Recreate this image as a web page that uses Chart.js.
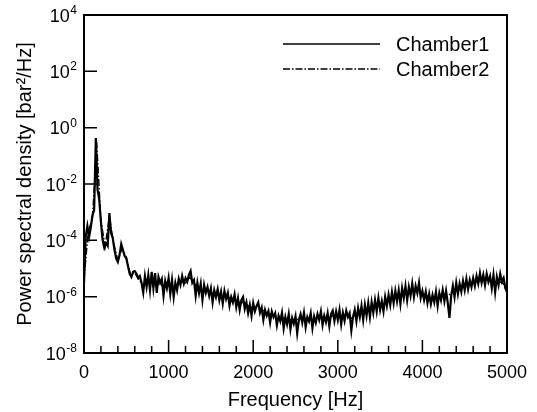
<!DOCTYPE html>
<html><head><meta charset="utf-8">
<script src="https://cdn.jsdelivr.net/npm/chart.js@4/dist/chart.umd.min.js"></script>
<style>html,body{margin:0;padding:0;background:#fff}canvas{display:block}</style>
</head><body>
<canvas id="c" width="537" height="412"></canvas>
<script>
// ---- data ----
const seriesLabels = ['Chamber1', 'Chamber2'];
const ch1StepHz = 20;   // sampling grid of Chamber1 (0..5000 Hz)
const chamber1 = [
3e-6,1.3e-4,3.2e-4,1.3e-4,2.8e-4,7.9e-4,1.2e-3,0.43,6.3e-3,2.8e-3,
4.5e-4,1e-4,5.4e-5,7.9e-5,6.3e-5,9.3e-4,1.8e-4,1.2e-4,4.6e-5,2.3e-5,
1.7e-5,3e-5,7.4e-5,4.6e-5,2.8e-5,2.3e-5,1.2e-5,6.5e-6,5e-6,7.6e-6,
8.1e-6,6.5e-6,4.6e-6,5.4e-6,3.1e-6,1.4e-6,5.4e-6,2.2e-6,5.9e-6,1.7e-6,
7.6e-6,2.0e-6,6.9e-6,1.35e-6,5e-6,3.1e-6,4.3e-6,1.07e-6,3.6e-6,2.0e-6,
4.6e-6,1.26e-6,3.9e-6,9.8e-7,3.1e-6,1.7e-6,4.3e-6,2.6e-6,5.4e-6,2.9e-6,
4.6e-6,3.4e-6,5.9e-6,8.1e-6,3.1e-6,3.9e-6,1.07e-6,3.1e-6,1.35e-6,2.9e-6,
7.6e-7,2.6e-6,1.35e-6,2.2e-6,1.07e-6,2.0e-6,6.3e-7,1.7e-6,9.8e-7,1.85e-6,
7.6e-7,1.5e-6,5.7e-7,1.6e-6,8.3e-7,1.35e-6,4.8e-7,9.8e-7,6.3e-7,1.2e-6,
4.3e-7,9e-7,3.4e-7,7.6e-7,9.8e-7,3.7e-7,6.3e-7,2.6e-7,5.1e-7,2.1e-7,
5.9e-7,3e-7,4.7e-7,6.3e-7,2.7e-7,4.1e-7,1.5e-7,3.4e-7,2.1e-7,3.1e-7,
1.2e-7,3e-7,1.9e-7,2.6e-7,9.7e-8,2.1e-7,1.35e-7,2.7e-7,7.6e-8,1.9e-7,
1.05e-7,2.4e-7,7e-8,1.75e-7,1.1e-7,2e-7,5e-8,1.5e-7,2.4e-7,1.2e-7,
2.7e-7,8.3e-8,1.9e-7,1.35e-7,2.6e-7,7.6e-8,2e-7,1.2e-7,2.4e-7,1.5e-7,
3e-7,9.7e-8,2.1e-7,1.25e-7,2.6e-7,9e-8,2.4e-7,3.2e-7,1.35e-7,3e-7,
1.5e-7,3.4e-7,1.05e-7,2.7e-7,1.4e-7,3.2e-7,1.9e-7,2.6e-7,6.3e-8,1.9e-7,
3.4e-7,1.35e-7,3.9e-7,1.9e-7,4.7e-7,1.5e-7,5.1e-7,2.1e-7,5.9e-7,1.9e-7,
6.3e-7,2.7e-7,7.6e-7,3e-7,9e-7,3.4e-7,6.9e-7,3e-7,9.8e-7,4.7e-7,
1.15e-6,5.1e-7,1.45e-6,5.9e-7,1.6e-6,6.9e-7,1.7e-6,5.5e-7,2.0e-6,9e-7,
2.4e-6,7.6e-7,2.2e-6,1.07e-6,2.9e-6,9.8e-7,2.4e-6,1.35e-6,3.1e-6,9e-7,
1.6e-6,7.6e-7,1.5e-6,5.9e-7,1.25e-6,5.5e-7,1.15e-6,6.3e-7,1.5e-6,4.7e-7,
1.35e-6,7.6e-7,1.7e-6,6.9e-7,1.6e-6,5.9e-7,1.75e-7,1.07e-6,2.4e-6,9.8e-7,
3.1e-6,1.25e-6,2.9e-6,1.5e-6,3.6e-6,1.7e-6,4.3e-6,1.85e-6,3.9e-6,2.2e-6,
4.6e-6,2.4e-6,5.4e-6,2.9e-6,6.9e-6,3.1e-6,5.9e-6,2.6e-6,6.5e-6,3.4e-6,
5.4e-6,2.0e-6,5.9e-6,1.45e-6,5e-6,2.6e-6,6.5e-6,3.4e-6,4.6e-6,2.0e-6,
1.45e-6
];
const ch2StepHz = 50;   // sampling grid of Chamber2 (0..5000 Hz)
const chamber2 = [
4e-6,2.0e-4,6e-4,0.3,5e-4,6e-5,7e-4,8e-5,2e-5,5e-5,
2.5e-5,6e-6,7e-6,4e-6,2.5e-6,3e-6,4e-6,2.5e-6,3e-6,2e-6,
3e-6,2e-6,2.5e-6,3.5e-6,3e-6,5e-6,3e-6,2e-6,1.5e-6,1.8e-6,
1.4e-6,1.2e-6,1.1e-6,9e-7,1e-6,8e-7,7e-7,6e-7,6.5e-7,4.5e-7,
4e-7,4.5e-7,3.5e-7,2.8e-7,2.5e-7,2.2e-7,2e-7,1.8e-7,1.6e-7,1.5e-7,
1.6e-7,1.5e-7,1.8e-7,1.6e-7,1.5e-7,1.8e-7,2e-7,1.7e-7,1.8e-7,2.2e-7,
2e-7,2.1e-7,2.3e-7,1.6e-7,2.2e-7,2.8e-7,3e-7,3.5e-7,4e-7,4.5e-7,
5e-7,6e-7,7.5e-7,9e-7,1e-6,1.2e-6,1.4e-6,1.5e-6,1.6e-6,1.7e-6,
1.3e-6,1.1e-6,9e-7,1e-6,1.1e-6,1.2e-6,1e-6,1.5e-6,1.8e-6,2e-6,
2.4e-6,2.6e-6,3e-6,3.4e-6,3.8e-6,4e-6,3.6e-6,3.2e-6,3.5e-6,3e-6,
2e-6
];
const xTickValues = [0, 1000, 2000, 3000, 4000, 5000];
const xMinorStep = 200;
const yTickExponents = [-8, -6, -4, -2, 0, 2, 4];

// ---- build library data ----
const pts1 = chamber1.map((v, i) => ({x: i * ch1StepHz, y: v}));
const pts2 = chamber2.map((v, i) => ({x: i * ch2StepHz, y: v}));
const FONT = '"Liberation Sans", Arial, sans-serif';
const DASH2 = [7, 2, 1.5, 2];

const frame = {
  id: 'frame',
  afterDraw(chart) {
    const {ctx, chartArea: a, scales: {x, y}} = chart;
    ctx.save();
    ctx.strokeStyle = '#000';
    ctx.lineWidth = 2;
    ctx.strokeRect(a.left, a.top, a.right - a.left, a.bottom - a.top);
    // inward tick marks
    ctx.lineWidth = 1.5;
    ctx.beginPath();
    for (let v = x.min; v <= x.max; v += xMinorStep) {
      const px = x.getPixelForValue(v);
      const len = xTickValues.includes(v) ? 13 : 7;
      ctx.moveTo(px, a.bottom); ctx.lineTo(px, a.bottom - len);
    }
    yTickExponents.forEach(e => {
      const py = y.getPixelForValue(Math.pow(10, e));
      ctx.moveTo(a.left, py); ctx.lineTo(a.left + 13, py);
    });
    ctx.stroke();
    // y tick labels 10^e
    ctx.fillStyle = '#000';
    ctx.textAlign = 'right';
    ctx.textBaseline = 'alphabetic';
    const rx = a.left - 7;
    yTickExponents.forEach(e => {
      const py = y.getPixelForValue(Math.pow(10, e));
      const es = String(e);
      ctx.font = '12px ' + FONT;
      const ew = ctx.measureText(es).width;
      ctx.fillText(es, rx, py - 1);
      ctx.font = '18px ' + FONT;
      ctx.fillText('10', rx - ew - 0.5, py + 6.5);
    });
    // legend
    const ds = chart.data.datasets;
    const lx0 = a.left + 199, lx1 = a.left + 296, tx = a.left + 312;
    const rows = [a.top + 29, a.top + 54];
    ds.forEach((d, i) => {
      ctx.beginPath();
      ctx.setLineDash(d.borderDash || []);
      ctx.lineWidth = 1.5;
      ctx.moveTo(lx0, rows[i]); ctx.lineTo(lx1, rows[i]);
      ctx.stroke();
      ctx.setLineDash([]);
      ctx.font = '20px ' + FONT;
      ctx.textAlign = 'left';
      ctx.fillText(d.label, tx, rows[i] + 7);
    });
    ctx.restore();
  }
};

new Chart(document.getElementById('c'), {
  type: 'line',
  data: {
    datasets: [
      {label: seriesLabels[0], data: pts1, borderColor: '#000', borderWidth: 2.2, pointRadius: 0, tension: 0, fill: false},
      {label: seriesLabels[1], data: pts2, borderColor: '#000', borderWidth: 1.4, borderDash: DASH2, pointRadius: 0, tension: 0, fill: false}
    ]
  },
  options: {
    responsive: false,
    animation: false,
    devicePixelRatio: 1,
    layout: {padding: {top: 15, right: 30, left: 0, bottom: 0}},
    plugins: {legend: {display: false}, tooltip: {enabled: false}},
    scales: {
      x: {
        type: 'linear', min: 0, max: 5000,
        afterBuildTicks(s) { s.ticks = xTickValues.map(v => ({value: v})); },
        afterFit(s) { s.height = 59; },
        ticks: {font: {family: FONT, size: 18}, color: '#000', padding: 9, maxRotation: 0, callback: v => String(v)},
        grid: {display: false, drawTicks: false},
        border: {display: false},
        title: {display: true, text: 'Frequency [Hz]', color: '#000', font: {family: FONT, size: 20}, padding: {top: 0, bottom: 0}}
      },
      y: {
        type: 'logarithmic', min: 1e-8, max: 1e4,
        afterBuildTicks(s) { s.ticks = yTickExponents.map(e => ({value: Math.pow(10, e)})); },
        afterFit(s) { s.width = 84; },
        ticks: {callback: () => ''},
        grid: {display: false, drawTicks: false},
        border: {display: false},
        title: {display: true, text: 'Power spectral density [bar²/Hz]', color: '#000', font: {family: FONT, size: 20}, padding: {top: 13, bottom: 0}}
      }
    }
  },
  plugins: [frame]
});
</script>
</body></html>
